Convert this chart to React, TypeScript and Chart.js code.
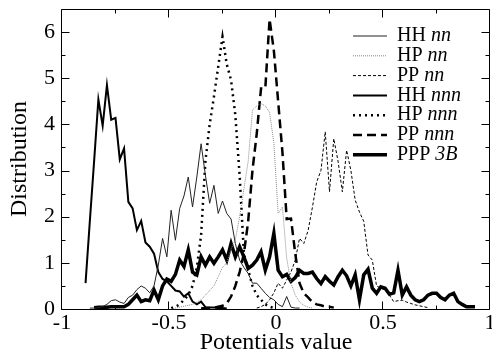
import React, { useEffect, useRef } from 'react';
import { Chart, registerables } from 'chart.js';

Chart.register(...registerables);

const FONT = '"Liberation Serif", "Times New Roman", serif';

const xTicks = [-1, -0.5, 0, 0.5, 1];
const xMinorTicks = [-0.75, -0.25, 0.25, 0.75];
const yTicks = [0, 1, 2, 3, 4, 5, 6];
const yMinorTicks = [0.5, 1.5, 2.5, 3.5, 4.5, 5.5];

const seriesNames = ['HH', 'HP', 'PP', 'HH', 'HP', 'PP', 'PPP'];
const seriesTags = ['nn', 'nn', 'nn', 'nnn', 'nnn', 'nnn', '3B'];

// [potential value, distribution]
const hhNN: [number, number][] = [
  [-0.87, 0.02], [-0.85, 0.02], [-0.83, 0.03], [-0.81, 0.05], [-0.79, 0.1], [-0.77, 0.18], [-0.75, 0.2],
  [-0.73, 0.15], [-0.71, 0.12], [-0.69, 0.25], [-0.67, 0.3], [-0.65, 0.42], [-0.63, 0.5], [-0.61, 0.45],
  [-0.59, 0.35], [-0.57, 0.5], [-0.55, 0.95], [-0.53, 1.53], [-0.51, 1.13], [-0.49, 2.14], [-0.47, 1.49],
  [-0.45, 2.18], [-0.43, 2.45], [-0.41, 2.86], [-0.39, 2.21], [-0.37, 2.86], [-0.35, 3.58], [-0.33, 2.9],
  [-0.31, 2.29], [-0.29, 2.68], [-0.27, 2.07], [-0.25, 2.34], [-0.23, 2.07], [-0.21, 1.95], [-0.19, 1.42],
  [-0.17, 1.06], [-0.15, 0.9], [-0.13, 0.77], [-0.11, 0.56], [-0.09, 0.56], [-0.07, 0.45], [-0.05, 0.34],
  [-0.03, 0.25], [-0.01, 0.2], [0.01, 0.1], [0.03, 0.05], [0.05, 0.27], [0.07, 0.04], [0.09, 0.02], [0.11, 0.02],
];

const hpNN: [number, number][] = [
  [-0.49, 0.01], [-0.47, 0.02], [-0.45, 0.04], [-0.43, 0.06], [-0.41, 0.08], [-0.39, 0.1], [-0.37, 0.15],
  [-0.35, 0.2], [-0.33, 0.3], [-0.31, 0.4], [-0.29, 0.5], [-0.27, 0.7], [-0.25, 0.9], [-0.23, 1.0],
  [-0.21, 1.3], [-0.19, 1.5], [-0.17, 2.0], [-0.15, 2.6], [-0.13, 3.2], [-0.11, 4.31], [-0.09, 4.4],
  [-0.07, 4.45], [-0.05, 4.4], [-0.03, 4.26], [-0.01, 3.6], [0.01, 2.07], [0.03, 2.21], [0.05, 1.1],
  [0.07, 0.56], [0.09, 0.3], [0.11, 0.15], [0.13, 0.08], [0.15, 0.04], [0.17, 0.02],
];

const ppNN: [number, number][] = [
  [-0.09, 0.02], [-0.07, 0.05], [-0.05, 0.1], [-0.03, 0.2], [-0.01, 0.35], [0.01, 0.56], [0.03, 0.45],
  [0.05, 0.63], [0.07, 0.8], [0.09, 1.06], [0.11, 1.53], [0.13, 1.42], [0.15, 1.7], [0.17, 2.2],
  [0.19, 2.75], [0.21, 3.0], [0.23, 3.84], [0.25, 2.54], [0.27, 3.69], [0.29, 3.2], [0.31, 2.54],
  [0.33, 3.44], [0.35, 3.0], [0.37, 2.36], [0.39, 2.1], [0.41, 1.9], [0.43, 1.17], [0.45, 1.06],
  [0.47, 0.5], [0.49, 0.45], [0.51, 0.41], [0.53, 0.3], [0.55, 0.16], [0.57, 0.18], [0.59, 0.19],
  [0.61, 0.15], [0.63, 0.12], [0.65, 0.09], [0.67, 0.07], [0.69, 0.05], [0.71, 0.03],
];

const hhNNN: [number, number][] = [
  [-0.89, 0.56], [-0.87, 1.9], [-0.85, 3.2], [-0.83, 4.54], [-0.81, 3.97], [-0.79, 4.85], [-0.77, 4.1],
  [-0.75, 4.14], [-0.73, 3.24], [-0.71, 3.48], [-0.69, 2.32], [-0.67, 2.18], [-0.65, 1.71], [-0.63, 1.91],
  [-0.61, 1.44], [-0.59, 1.35], [-0.57, 1.2], [-0.55, 0.8], [-0.53, 0.65], [-0.51, 0.6], [-0.49, 0.5],
  [-0.47, 0.4], [-0.45, 0.38], [-0.43, 0.27], [-0.41, 0.34], [-0.39, 0.16], [-0.37, 0.1], [-0.35, 0.16],
  [-0.33, 0.04], [-0.31, 0.03], [-0.29, 0.03], [-0.27, 0.02], [-0.25, 0.02], [-0.23, 0.01],
];

const hpNNN: [number, number][] = [
  [-0.49, 0.02], [-0.47, 0.05], [-0.45, 0.1], [-0.43, 0.2], [-0.41, 0.3], [-0.39, 0.5], [-0.37, 0.9],
  [-0.35, 1.6], [-0.33, 3.2], [-0.31, 4.0], [-0.29, 4.6], [-0.27, 5.25], [-0.25, 5.9], [-0.23, 5.3],
  [-0.21, 4.96], [-0.19, 4.2], [-0.17, 2.9], [-0.15, 1.2], [-0.13, 0.85], [-0.11, 0.5], [-0.09, 0.3],
  [-0.07, 0.2], [-0.05, 0.1], [-0.03, 0.05], [-0.01, 0.02],
];

const ppNNN: [number, number][] = [
  [-0.35, 0.01], [-0.33, 0.02], [-0.31, 0.02], [-0.29, 0.03], [-0.27, 0.05], [-0.25, 0.07], [-0.23, 0.12],
  [-0.21, 0.27], [-0.19, 0.5], [-0.17, 0.8], [-0.15, 1.2], [-0.13, 1.9], [-0.11, 3.0], [-0.09, 3.8],
  [-0.07, 4.78], [-0.05, 4.78], [-0.03, 6.28], [-0.01, 5.6], [0.01, 4.5], [0.03, 3.4], [0.05, 1.95],
  [0.07, 1.96], [0.09, 1.2], [0.11, 0.56], [0.13, 0.34], [0.15, 0.25], [0.17, 0.15], [0.19, 0.1],
  [0.21, 0.08], [0.23, 0.05], [0.25, 0.05], [0.27, 0.03],
];

const ppp3B: [number, number][] = [
  [-0.85, 0.03], [-0.83, 0.04], [-0.81, 0.04], [-0.79, 0.04], [-0.77, 0.05], [-0.75, 0.05], [-0.73, 0.05],
  [-0.71, 0.05], [-0.69, 0.1], [-0.67, 0.2], [-0.65, 0.3], [-0.63, 0.16], [-0.61, 0.2], [-0.59, 0.18],
  [-0.57, 0.41], [-0.55, 0.2], [-0.53, 0.5], [-0.51, 0.65], [-0.49, 0.6], [-0.47, 0.75], [-0.45, 1.06],
  [-0.43, 0.92], [-0.41, 1.28], [-0.39, 0.8], [-0.37, 0.74], [-0.35, 1.13], [-0.33, 0.95], [-0.31, 1.13],
  [-0.29, 0.99], [-0.27, 1.13], [-0.25, 1.28], [-0.23, 1.06], [-0.21, 1.42], [-0.19, 1.13], [-0.17, 1.35],
  [-0.15, 1.13], [-0.13, 0.88], [-0.11, 0.95], [-0.09, 1.06], [-0.07, 1.24], [-0.05, 0.84], [-0.03, 1.13],
  [-0.01, 1.64], [0.01, 0.84], [0.03, 0.7], [0.05, 0.75], [0.07, 0.6], [0.09, 0.68], [0.11, 0.84],
  [0.13, 0.77], [0.15, 0.77], [0.17, 0.8], [0.19, 0.66], [0.21, 0.55], [0.23, 0.7], [0.25, 0.6],
  [0.27, 0.52], [0.29, 0.7], [0.31, 0.84], [0.33, 0.72], [0.35, 0.5], [0.37, 0.74], [0.39, 0.2],
  [0.41, 0.74], [0.43, 0.86], [0.45, 0.45], [0.47, 0.34], [0.49, 0.48], [0.51, 0.45], [0.53, 0.32],
  [0.55, 0.35], [0.57, 0.84], [0.59, 0.3], [0.61, 0.48], [0.63, 0.3], [0.65, 0.2], [0.67, 0.16],
  [0.69, 0.2], [0.71, 0.3], [0.73, 0.34], [0.75, 0.34], [0.77, 0.25], [0.79, 0.2], [0.81, 0.3],
  [0.83, 0.34], [0.85, 0.16], [0.87, 0.1], [0.89, 0.05], [0.91, 0.05], [0.93, 0.05],
];

const toPoints = (arr: [number, number][]) => arr.map(([x, y]) => ({ x, y }));

const frameTicksPlugin = {
  id: 'frameTicks',
  afterDatasetsDraw(chart: any) {
    const { ctx, chartArea, scales } = chart;
    const { left, right, top, bottom } = chartArea;
    const xs = scales.x;
    const ys = scales.y;
    ctx.save();
    ctx.strokeStyle = '#000';
    ctx.lineWidth = 1;
    ctx.setLineDash([]);
    ctx.beginPath();
    ctx.rect(left - 0.5, top + 0.5, right - left, bottom - top);
    ctx.stroke();
    const drawX = (vals: number[], len: number) => {
      vals.forEach((v) => {
        const px = Math.round(xs.getPixelForValue(v)) - 0.5;
        ctx.beginPath();
        ctx.moveTo(px, bottom + 0.5);
        ctx.lineTo(px, bottom + 0.5 - len);
        ctx.moveTo(px, top + 0.5);
        ctx.lineTo(px, top + 0.5 + len);
        ctx.stroke();
      });
    };
    const drawY = (vals: number[], len: number) => {
      vals.forEach((v) => {
        const py = Math.round(ys.getPixelForValue(v)) + 0.5;
        ctx.beginPath();
        ctx.moveTo(left - 0.5, py);
        ctx.lineTo(left - 0.5 + len, py);
        ctx.moveTo(right - 0.5, py);
        ctx.lineTo(right - 0.5 - len, py);
        ctx.stroke();
      });
    };
    drawX(xTicks, 8);
    drawX(xMinorTicks, 4);
    drawY(yTicks, 8);
    drawY(yMinorTicks, 4);
    ctx.restore();
  },
};

const legendPlugin = {
  id: 'italicLegend',
  afterDraw(chart: any) {
    const ctx = chart.ctx;
    const { right, top } = chart.chartArea;
    ctx.save();
    chart.data.datasets.forEach((ds: any, i: number) => {
      const y = top + 27 + i * 19.8;
      ctx.beginPath();
      ctx.strokeStyle = ds.borderColor;
      ctx.lineWidth = ds.borderWidth;
      ctx.setLineDash(ds.borderDash || []);
      ctx.moveTo(right - 137, y);
      ctx.lineTo(right - 103, y);
      ctx.stroke();
      ctx.setLineDash([]);
      ctx.fillStyle = '#000';
      ctx.textBaseline = 'middle';
      ctx.textAlign = 'left';
      ctx.font = `20px ${FONT}`;
      const name = seriesNames[i] + ' ';
      const tx = right - 93;
      ctx.fillText(name, tx, y);
      const w = ctx.measureText(name).width;
      ctx.font = `italic 20px ${FONT}`;
      ctx.fillText(seriesTags[i], tx + w, y);
    });
    ctx.restore();
  },
};

export default function App() {
  const ref = useRef<HTMLCanvasElement | null>(null);
  useEffect(() => {
    if (!ref.current) return;
    const mk = (data: [number, number][], i: number, color: string, width: number, dash: number[]) => ({
      label: seriesNames[i] + ' ' + seriesTags[i],
      data: toPoints(data),
      borderColor: color,
      borderWidth: width,
      borderDash: dash,
      pointRadius: 0,
      fill: false,
      tension: 0,
    });
    const chart = new Chart(ref.current, {
      type: 'line',
      data: {
        datasets: [
          mk(hhNN, 0, '#222', 1, []),
          mk(hpNN, 1, '#888', 1, [1, 1]),
          mk(ppNN, 2, '#000', 1, [3, 2]),
          mk(hhNNN, 3, '#000', 2, []),
          mk(hpNNN, 4, '#000', 2.5, [2, 4]),
          mk(ppNNN, 5, '#000', 2.5, [9, 5]),
          mk(ppp3B, 6, '#000', 3.5, []),
        ],
      },
      options: {
        animation: false,
        responsive: false,
        layout: { padding: { top: 9, right: 2, left: 0, bottom: 0 } },
        plugins: { legend: { display: false }, tooltip: { enabled: false } },
        scales: {
          x: {
            type: 'linear',
            min: -1,
            max: 1,
            grid: { display: false, drawTicks: false },
            border: { display: false },
            ticks: {
              font: { family: FONT, size: 22, lineHeight: 1 }, color: '#000', padding: 3, maxRotation: 0, autoSkip: false,
              callback: (v: any) => String(v),
            },
            afterBuildTicks: (s: any) => { s.ticks = xTicks.map((v) => ({ value: v })); },
            afterFit: (s: any) => { s.height = 45; s.paddingLeft = 0; s.paddingRight = 0; },
            title: { display: true, text: 'Potentials value', color: '#000', font: { family: FONT, size: 24, lineHeight: 1 }, padding: { top: 0, bottom: -1 } },
          },
          y: {
            type: 'linear',
            min: 0,
            max: 6.5,
            grid: { display: false, drawTicks: false },
            border: { display: false },
            ticks: {
              font: { family: FONT, size: 22, lineHeight: 1 }, color: '#000', padding: 7, autoSkip: false,
              callback: (v: any) => String(v),
            },
            afterBuildTicks: (s: any) => { s.ticks = yTicks.map((v) => ({ value: v })); },
            afterFit: (s: any) => { s.width = 62; s.paddingTop = 0; s.paddingBottom = 0; },
            title: { display: true, text: 'Distribution', color: '#000', font: { family: FONT, size: 24, lineHeight: 1 }, padding: { top: 8, bottom: 0 } },
          },
        },
      },
      plugins: [frameTicksPlugin, legendPlugin],
    } as any);
    return () => chart.destroy();
  }, []);
  return (
    <div style={{ position: 'fixed', left: 0, top: 0, width: 492, height: 354, background: '#fff' }}>
      <canvas ref={ref} width={492} height={354} style={{ width: 492, height: 354, display: 'block' }} />
    </div>
  );
}
